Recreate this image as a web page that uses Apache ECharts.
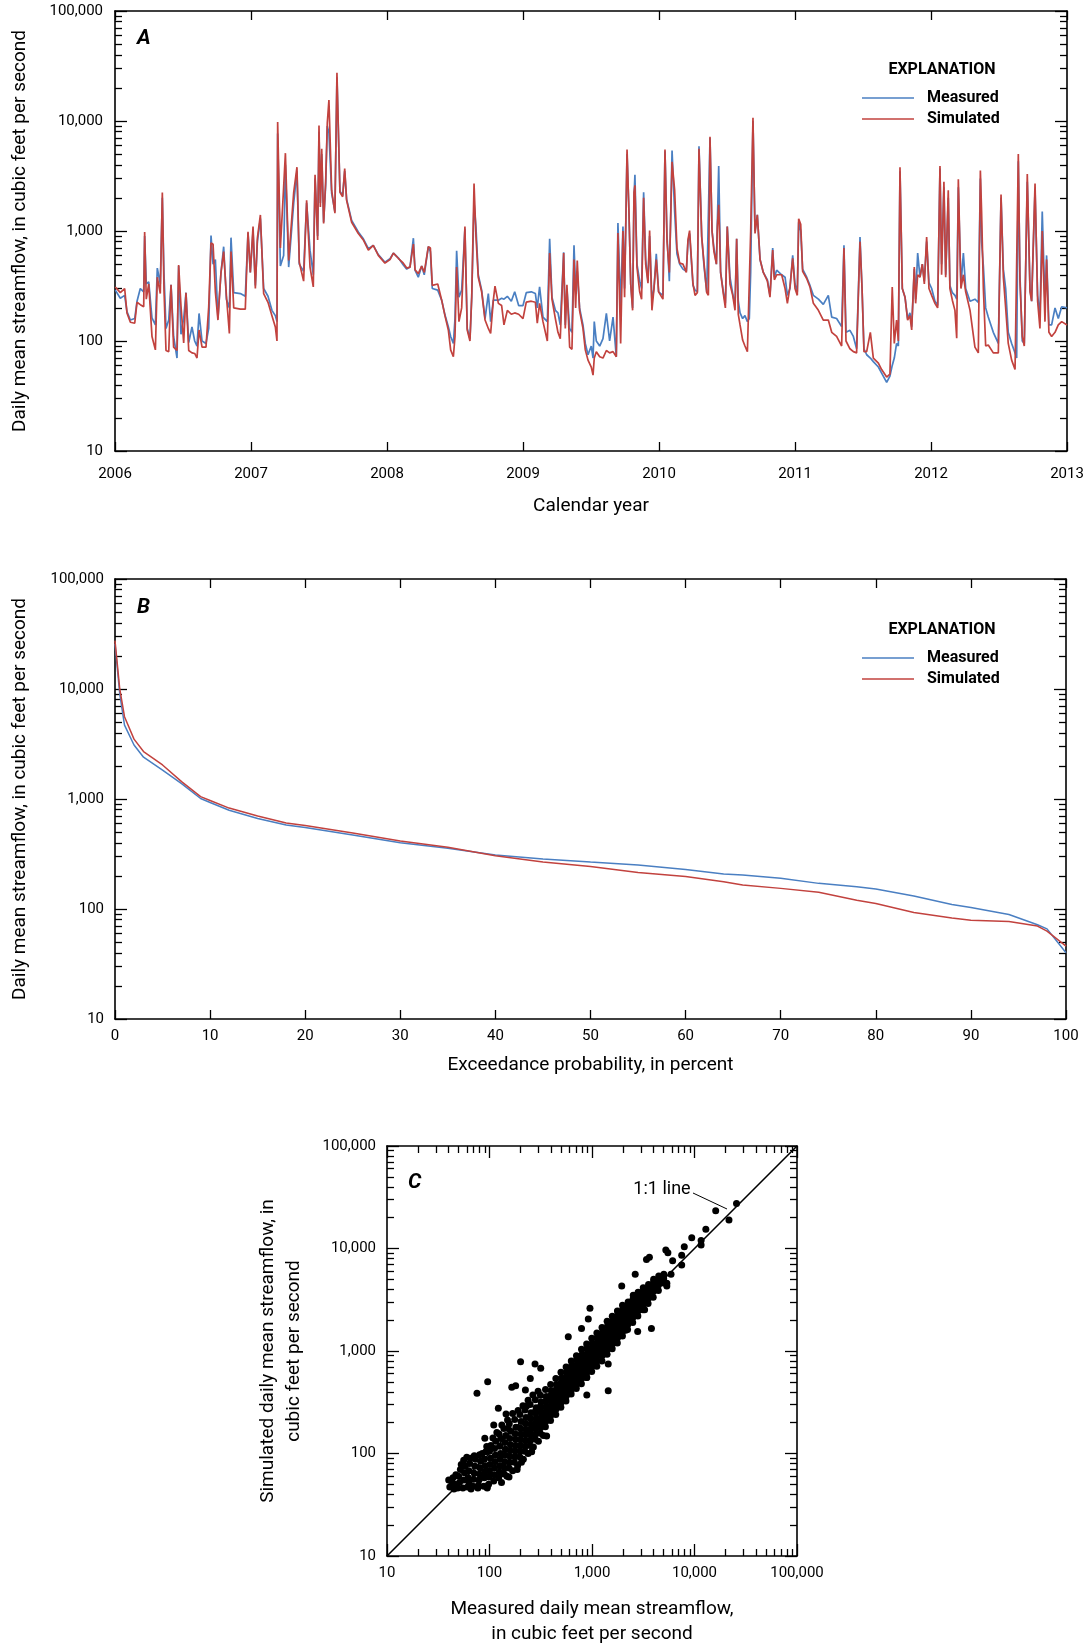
<!DOCTYPE html>
<html>
<head>
<meta charset="utf-8">
<title>Daily mean streamflow, measured and simulated</title>
<script src="https://cdn.jsdelivr.net/npm/echarts@6/dist/echarts.min.js"></script>
<style>
  html, body { margin: 0; padding: 0; background: #fff; }
  #chart { width: 1088px; height: 1648px; }
</style>
</head>
<body>
<div id="chart"></div>
<script>
const FONT = 'Roboto, "Noto Sans", sans-serif'
const BLUE = '#4a7fc2'
const RED = '#c2423e'

// ---- panel A: daily series (decimal year, cfs) ----
const years = [
  2006.002, 2006.039, 2006.071, 2006.088, 2006.113, 2006.145, 2006.162, 2006.186, 2006.211, 2006.218, 2006.230, 2006.248,
  2006.272, 2006.297, 2006.311, 2006.333, 2006.348, 2006.360, 2006.375, 2006.395, 2006.412, 2006.431, 2006.456, 2006.468,
  2006.485, 2006.505, 2006.522, 2006.542, 2006.566, 2006.586, 2006.603, 2006.618, 2006.640, 2006.669, 2006.689, 2006.706,
  2006.721, 2006.738, 2006.757, 2006.779, 2006.799, 2006.819, 2006.841, 2006.853, 2006.873, 2006.922, 2006.958, 2006.978,
  2006.995, 2007.015, 2007.032, 2007.047, 2007.069, 2007.093, 2007.125, 2007.154, 2007.179, 2007.191, 2007.196, 2007.216,
  2007.240, 2007.253, 2007.277, 2007.314, 2007.338, 2007.355, 2007.387, 2007.409, 2007.434, 2007.458, 2007.471, 2007.490,
  2007.500, 2007.510, 2007.520, 2007.534, 2007.549, 2007.561, 2007.573, 2007.593, 2007.617, 2007.632, 2007.654, 2007.674,
  2007.689, 2007.703, 2007.740, 2007.789, 2007.826, 2007.863, 2007.899, 2007.936, 2007.985, 2008.022, 2008.047, 2008.083,
  2008.120, 2008.145, 2008.169, 2008.194, 2008.206, 2008.230, 2008.255, 2008.274, 2008.304, 2008.319, 2008.333, 2008.373,
  2008.402, 2008.426, 2008.451, 2008.468, 2008.488, 2008.500, 2008.512, 2008.529, 2008.549, 2008.573, 2008.590, 2008.610,
  2008.623, 2008.640, 2008.654, 2008.671, 2008.696, 2008.721, 2008.745, 2008.762, 2008.782, 2008.794, 2008.819, 2008.843,
  2008.860, 2008.885, 2008.914, 2008.939, 2008.968, 2009.000, 2009.024, 2009.061, 2009.091, 2009.105, 2009.122, 2009.147,
  2009.179, 2009.196, 2009.213, 2009.238, 2009.257, 2009.274, 2009.299, 2009.311, 2009.323, 2009.343, 2009.360, 2009.375,
  2009.387, 2009.399, 2009.416, 2009.441, 2009.458, 2009.478, 2009.502, 2009.515, 2009.524, 2009.539, 2009.564, 2009.588,
  2009.613, 2009.637, 2009.662, 2009.686, 2009.698, 2009.718, 2009.735, 2009.747, 2009.765, 2009.779, 2009.792, 2009.806,
  2009.816, 2009.823, 2009.838, 2009.858, 2009.872, 2009.887, 2009.902, 2009.919, 2009.931, 2009.948, 2009.963, 2009.980,
  2009.997, 2010.029, 2010.044, 2010.059, 2010.076, 2010.096, 2010.115, 2010.132, 2010.152, 2010.176, 2010.201, 2010.213,
  2010.225, 2010.250, 2010.265, 2010.282, 2010.294, 2010.314, 2010.331, 2010.351, 2010.363, 2010.375, 2010.390, 2010.404,
  2010.422, 2010.429, 2010.439, 2010.453, 2010.473, 2010.488, 2010.502, 2010.522, 2010.542, 2010.559, 2010.571, 2010.583,
  2010.596, 2010.615, 2010.632, 2010.650, 2010.664, 2010.674, 2010.691, 2010.706, 2010.723, 2010.743, 2010.767, 2010.797,
  2010.816, 2010.836, 2010.848, 2010.865, 2010.902, 2010.927, 2010.944, 2010.963, 2010.983, 2011.000, 2011.017, 2011.027,
  2011.042, 2011.056, 2011.086, 2011.110, 2011.135, 2011.172, 2011.208, 2011.245, 2011.270, 2011.306, 2011.343, 2011.360,
  2011.375, 2011.404, 2011.429, 2011.453, 2011.478, 2011.493, 2011.507, 2011.527, 2011.554, 2011.576, 2011.613, 2011.637,
  2011.674, 2011.698, 2011.715, 2011.730, 2011.747, 2011.760, 2011.772, 2011.789, 2011.809, 2011.828, 2011.845, 2011.858,
  2011.877, 2011.887, 2011.902, 2011.919, 2011.936, 2011.951, 2011.968, 2011.985, 2012.005, 2012.029, 2012.049, 2012.066,
  2012.078, 2012.095, 2012.108, 2012.127, 2012.139, 2012.157, 2012.176, 2012.189, 2012.201, 2012.220, 2012.238, 2012.255,
  2012.287, 2012.323, 2012.348, 2012.363, 2012.372, 2012.385, 2012.402, 2012.421, 2012.458, 2012.495, 2012.515, 2012.532,
  2012.549, 2012.568, 2012.593, 2012.618, 2012.630, 2012.642, 2012.654, 2012.671, 2012.686, 2012.708, 2012.728, 2012.740,
  2012.765, 2012.784, 2012.801, 2012.818, 2012.838, 2012.850, 2012.867, 2012.887, 2012.912, 2012.936, 2012.961, 2013.000,
]
const measured = [
  290, 245, 260, 185, 155, 160, 230, 300, 280, 900, 330, 345,
  162, 140, 460, 330, 2000, 420, 130, 155, 324, 110, 70, 480,
  115, 160, 275, 97, 134, 100, 90, 178, 100, 95, 130, 910,
  500, 550, 160, 415, 720, 240, 200, 870, 275, 270, 255, 960,
  420, 1000, 320, 800, 1300, 300, 255, 190, 170, 150, 7700, 480,
  600, 4000, 470, 1800, 3500, 500, 430, 1800, 670, 400, 3000, 900,
  8000, 1800, 5000, 1200, 2600, 9000, 7800, 2200, 1500, 25000, 2300, 2100,
  3500, 1950, 1250, 980, 850, 690, 740, 610, 520, 560, 630, 570,
  490, 450, 470, 860, 440, 380, 480, 400, 720, 650, 300, 290,
  235, 173, 135, 110, 95, 160, 660, 250, 290, 1050, 130, 105,
  250, 1800, 1100, 400, 290, 160, 270, 150, 235, 240, 235, 245,
  240, 255, 230, 280, 210, 210, 275, 280, 270, 200, 310, 165,
  150, 850, 250, 190, 180, 140, 640, 140, 300, 130, 120, 740,
  300, 430, 200, 140, 95, 75, 90, 70, 150, 100, 90, 105,
  178, 100, 165, 72, 1180, 200, 1100, 300, 5000, 1500, 330, 200,
  2000, 3250, 500, 350, 300, 2250, 550, 350, 900, 230, 300, 620,
  280, 260, 5300, 900, 350, 5400, 1500, 620, 500, 450, 430, 800,
  950, 320, 290, 280, 5900, 900, 480, 280, 270, 7000, 1000, 700,
  500, 480, 3900, 420, 280, 220, 1100, 380, 270, 210, 850, 230,
  180, 160, 170, 150, 160, 420, 10000, 1000, 1400, 550, 420, 360,
  260, 700, 380, 440, 400, 380, 260, 300, 600, 330, 280, 1200,
  1000, 450, 380, 320, 260, 240, 215, 260, 165, 160, 135, 740,
  120, 125, 110, 85, 880, 300, 85, 75, 70, 65, 58, 51,
  42, 48, 60, 70, 95, 90, 3500, 300, 250, 160, 180, 135,
  450, 240, 630, 380, 500, 350, 800, 340, 300, 230, 210, 3700,
  500, 2500, 400, 2000, 320, 275, 260, 240, 2500, 320, 630, 300,
  230, 240, 225, 3000, 800, 480, 200, 165, 120, 95, 2000, 450,
  300, 120, 95, 78, 70, 4300, 400, 100, 95, 2800, 300, 230,
  2400, 260, 170, 1500, 220, 600, 140, 140, 200, 160, 205, 200,
]
const simulated = [
  310, 275, 300, 180, 148, 145, 225, 214, 205, 980, 240, 330,
  110, 83, 380, 270, 2240, 300, 82, 80, 324, 88, 82, 490,
  210, 96, 275, 82, 78, 77, 70, 126, 88, 88, 204, 780,
  760, 280, 155, 415, 650, 260, 117, 650, 200, 195, 195, 985,
  420, 1100, 300, 860, 1400, 270, 225, 170, 134, 100, 9800, 700,
  2500, 5100, 540, 2250, 3800, 520, 350, 1900, 470, 310, 3250, 830,
  9100, 1650, 5600, 1170, 2800, 9600, 15500, 2350, 1450, 27500, 2250, 2050,
  3700, 1900, 1200, 950, 830, 670, 740, 600, 510, 550, 630, 565,
  510, 460, 470, 760, 445, 410, 480, 420, 720, 700, 320, 330,
  235, 170, 126, 83, 72, 110, 470, 150, 200, 1100, 126, 100,
  250, 2700, 900, 380, 280, 155, 130, 117, 235, 315, 220, 210,
  140, 190, 175, 180, 175, 160, 226, 230, 225, 145, 220, 150,
  100, 630, 240, 160, 120, 105, 630, 130, 325, 88, 84, 550,
  200, 540, 190, 130, 83, 67, 58, 49, 70, 80, 72, 70,
  82, 78, 80, 72, 960, 95, 1000, 250, 5500, 1500, 330, 190,
  2250, 2600, 470, 280, 240, 2000, 500, 335, 1010, 190, 300, 550,
  280, 240, 5500, 800, 420, 4250, 2350, 700, 510, 500, 420, 830,
  1010, 330, 260, 275, 5600, 880, 510, 275, 260, 7200, 1000, 650,
  500, 1100, 1730, 420, 270, 200, 1100, 330, 260, 190, 850, 175,
  140, 102, 90, 80, 82, 980, 10700, 950, 1400, 550, 420, 350,
  250, 670, 360, 400, 400, 300, 220, 310, 565, 300, 260, 1290,
  1150, 430, 370, 310, 220, 190, 155, 155, 120, 110, 90, 700,
  100, 85, 80, 78, 800, 300, 80, 80, 120, 70, 63, 55,
  47, 50, 310, 95, 155, 100, 3800, 300, 250, 155, 170, 126,
  470, 220, 400, 380, 500, 330, 880, 300, 260, 220, 200, 3900,
  400, 2800, 380, 2350, 300, 235, 190, 106, 2950, 300, 400, 280,
  190, 88, 78, 3550, 1500, 300, 90, 92, 78, 78, 2150, 380,
  200, 95, 67, 55, 53, 5000, 350, 110, 90, 3300, 280, 230,
  2700, 230, 130, 1000, 150, 550, 120, 110, 120, 140, 150, 140,
]

// ---- panel B: flow-duration curves ----
const exceedance = [0, 0.5, 1, 2, 3, 5, 7, 9, 10, 12, 15, 18, 20, 25, 30, 35, 40, 45, 50, 55, 60, 64, 66, 70, 74, 78, 80, 84, 88, 90, 94, 97, 98, 100]
const measuredFdc = [25700, 9000, 4700, 3100, 2400, 1830, 1380, 1010, 930, 790, 665, 580, 550, 470, 400, 357, 310, 285, 267, 251, 229, 208, 204, 190, 171, 159, 152, 131, 110, 103, 89, 72, 66, 40]
const simulatedFdc = [27500, 10000, 5600, 3500, 2700, 2040, 1440, 1050, 970, 827, 700, 605, 575, 490, 415, 365, 305, 268, 243, 215, 197, 177, 165, 154, 142, 120, 112, 93, 83, 79, 77, 70, 63, 46]

// ---- panel C: measured vs simulated pairs ----
const pairsC = [
  [40, 55], [41, 47], [43, 52], [44, 58], [45, 45], [46, 50], [47, 62],
  [49, 46], [50, 60], [51, 52], [52, 70], [53, 78], [55, 46], [56, 55], [57, 65], [58, 75], [56, 86],
  [61, 47], [62, 58], [63, 68], [64, 80], [65, 90], [63, 52], [69, 48], [70, 56], [71, 64], [72, 75], [73, 88], [71, 95],
  [78, 49], [79, 55], [80, 63], [81, 72], [82, 84], [80, 97], [77, 46],
  [88, 48], [89, 58], [90, 66], [91, 76], [89, 88], [92, 104], [95, 46],
  [98, 50], [99, 59], [100, 68], [101, 78], [102, 90], [100, 105], [103, 120],
  [110, 54], [111, 62], [112, 72], [113, 83], [114, 96], [112, 112], [115, 132],
  [123, 58], [125, 66], [126, 76], [127, 88], [128, 100], [126, 118], [129, 140], [124, 155],
  [139, 63], [140, 72], [141, 83], [142, 96], [143, 110], [141, 128], [144, 150], [138, 175],
  [155, 72], [157, 82], [158, 94], [159, 107], [160, 122], [158, 140], [161, 165], [156, 195],
  [175, 82], [177, 93], [178, 106], [179, 120], [180, 137], [178, 156], [181, 180], [176, 215],
  [197, 93], [199, 106], [200, 120], [201, 136], [202, 155], [200, 176], [203, 205], [198, 240], [205, 82],
  [221, 105], [223, 118], [224, 134], [225, 152], [226, 172], [224, 196], [227, 225], [222, 265],
  [248, 120], [250, 135], [251, 152], [252, 172], [253, 194], [251, 220], [254, 250], [249, 300],
  [279, 138], [281, 155], [282, 175], [283, 197], [284, 220], [282, 248], [285, 280], [280, 335],
  [312, 158], [315, 178], [316, 200], [317, 225], [318, 252], [316, 282], [319, 318], [314, 370],
  [351, 182], [353, 205], [355, 230], [356, 258], [357, 288], [355, 322], [358, 360], [352, 420],
  [394, 210], [396, 236], [398, 264], [399, 295], [400, 330], [398, 368], [401, 410], [395, 470],
  [443, 240], [445, 270], [447, 302], [448, 338], [449, 378], [447, 420], [450, 470], [444, 540],
  [497, 282], [499, 315], [501, 352], [502, 392], [503, 438], [501, 490], [504, 545], [498, 620],
  [557, 325], [560, 362], [562, 405], [563, 450], [564, 500], [562, 560], [565, 620], [559, 700],
  [626, 380], [629, 422], [631, 470], [632, 522], [633, 580], [631, 645], [634, 720], [628, 800],
  [703, 430], [706, 480], [708, 535], [709, 595], [710, 660], [708, 735], [711, 820], [705, 900],
  [788, 480], [791, 540], [794, 600], [795, 668], [796, 742], [794, 825], [797, 920], [790, 1040],
  [885, 550], [888, 615], [891, 685], [892, 760], [893, 845], [891, 940], [894, 1050], [887, 1170],
  [993, 630], [996, 705], [1000, 785], [1002, 870], [1004, 965], [1000, 1070], [1006, 1190], [995, 1330],
  [1114, 710], [1118, 800], [1122, 890], [1124, 985], [1126, 1090], [1122, 1210], [1128, 1350], [1116, 1500],
  [1250, 800], [1254, 900], [1259, 1000], [1262, 1110], [1264, 1230], [1259, 1370], [1266, 1520], [1252, 1700],
  [1403, 930], [1408, 1040], [1413, 1150], [1416, 1270], [1418, 1410], [1413, 1560], [1420, 1750], [1405, 1950],
  [1574, 1050], [1580, 1170], [1585, 1300], [1588, 1440], [1590, 1600], [1585, 1780], [1592, 1980], [1577, 2180],
  [1766, 1200], [1772, 1340], [1778, 1490], [1782, 1650], [1785, 1830], [1778, 2030], [1788, 2250], [1770, 2450],
  [1981, 1400], [1988, 1560], [1995, 1730], [2000, 1920], [2004, 2130], [1995, 2360], [2008, 2600], [1985, 2800],
  [2223, 1620], [2230, 1800], [2239, 2000], [2244, 2220], [2248, 2460], [2239, 2720], [2252, 3000],
  [2495, 1900], [2503, 2120], [2512, 2350], [2518, 2600], [2522, 2880], [2512, 3200], [2526, 3500],
  [2800, 2200], [2810, 2450], [2818, 2720], [2825, 3020], [2830, 3350], [2818, 3750],
  [3140, 2520], [3150, 2800], [3162, 3100], [3170, 3450], [3175, 3850], [3162, 4150],
  [3525, 2900], [3536, 3250], [3548, 3600], [3556, 4000], [3560, 4450],
  [3955, 3350], [3968, 3800], [3981, 4200], [3990, 4700], [3995, 5000],
  [4440, 3900], [4455, 4400], [4467, 4900], [4480, 5400], [4980, 4600], [5000, 5100], [5020, 5600],
  // ragged edges of the low-flow part of the band
  [118, 160], [132, 190], [150, 212], [168, 245], [190, 262], [212, 292], [238, 330], [265, 372], [298, 405],
  [131, 52], [148, 60], [168, 68], [188, 76], [214, 88], [238, 100], [268, 116], [300, 132], [335, 150],
  [108, 142], [152, 175], [186, 70], [230, 290], [60, 92], [85, 100], [66, 45],
  // scattered points away from the main band
  [25700, 27500], [16100, 23400], [21700, 19000], [12900, 15400], [9400, 12700], [11600, 12000], [11600, 10800],
  [7950, 10400], [5250, 9660], [5500, 9100], [6120, 7590], [7500, 8600], [7500, 6920], [3400, 7830], [3630, 8220],
  [5900, 5600], [5370, 4300], [5370, 4570], [2640, 5600], [1950, 4300], [3800, 1660], [2790, 1550], [955, 2610],
  [920, 2050], [587, 1380], [790, 1660], [1440, 747], [1440, 410], [890, 372], [201, 787], [96, 500], [75.5, 386],
  [165, 444], [180, 457], [224, 417], [278, 747], [316, 680], [250, 540], [122, 276], [110, 190], [145, 243],
  [90, 141], [94, 117], [361, 148], [258, 104], [155, 59], [95, 47], [417, 281], [890, 550], [2130, 1590], [3260, 2530],
]
const oneToOne = [10, 100000]

// ---- axes ----
const yearTicks = [2006, 2007, 2008, 2009, 2010, 2011, 2012, 2013]
const flowTicks = [10, 100, 1000, 10000, 100000]
const minorFlowTicks = [
  20, 30, 40, 50, 60, 70, 80, 90,
  200, 300, 400, 500, 600, 700, 800, 900,
  2000, 3000, 4000, 5000, 6000, 7000, 8000, 9000,
  20000, 30000, 40000, 50000, 60000, 70000, 80000, 90000,
]

const tickLine = { color: "#000", width: 1.3 }
const boxLine = { show: true, onZero: false, lineStyle: { color: "#000", width: 1.6 } }
const labelStyle = { color: "#000", fontFamily: FONT, fontSize: 15 }
const nameStyle = { color: "#000", fontFamily: FONT, fontSize: 19, lineHeight: 20 }

function flowAxis(gridIndex, position, showLabel, margin) {
  return {
    type: "log",
    logBase: 10,
    min: 10,
    max: 100000,
    gridIndex,
    position,
    axisLine: boxLine,
    splitLine: { show: false },
    axisTick: { show: true, inside: true, length: 12, customValues: flowTicks, lineStyle: tickLine },
    axisLabel: {
      show: showLabel,
      customValues: flowTicks,
      margin,
      formatter: (v) => Number(v).toLocaleString("en-US"),
      ...labelStyle,
    },
  }
}

function minorAxis(gridIndex, position) {
  return {
    type: "log",
    logBase: 10,
    min: 10,
    max: 100000,
    gridIndex,
    position,
    axisLine: { show: false },
    splitLine: { show: false },
    axisTick: { show: true, inside: true, length: 7, customValues: minorFlowTicks, lineStyle: tickLine },
    axisLabel: { show: false },
  }
}

function linearAxis(gridIndex, position, min, max, interval, showLabel, margin) {
  return {
    type: "value",
    gridIndex,
    position,
    min,
    max,
    interval,
    axisLine: boxLine,
    splitLine: { show: false },
    axisTick: { show: true, inside: true, length: 9, lineStyle: tickLine },
    axisLabel: { show: showLabel, margin, formatter: (v) => String(v), ...labelStyle },
  }
}

const hiddenX = (gridIndex) => ({ type: "value", gridIndex, min: 0, max: 1, show: false })

function lineSeries(name, color, xIdx, yIdx, xs, ys, width) {
  return {
    name,
    type: "line",
    xAxisIndex: xIdx,
    yAxisIndex: yIdx,
    data: xs.map((x, i) => [x, ys[i]]),
    showSymbol: false,
    symbol: "none",
    color,
    itemStyle: { color },
    lineStyle: { color, width },
    silent: true,
  }
}

function legendAt(top) {
  return {
    left: 862,
    top,
    padding: 0,
    orient: "vertical",
    icon: "rect",
    itemWidth: 52,
    itemHeight: 1.6,
    itemGap: 5,
    selectedMode: false,
    data: ["Measured", "Simulated"],
    textStyle: { color: "#000", fontFamily: FONT, fontSize: 16, fontWeight: "bold", padding: [0, 0, 0, 8] },
  }
}

function panelText(x, y, text, extra) {
  return {
    type: "text",
    x,
    y,
    style: { text, fill: "#000", fontFamily: FONT, verticalAlign: "middle", ...extra },
  }
}

const gridA = { left: 115, top: 11, width: 952, height: 440, outerBoundsMode: "none" }
const gridB = { left: 115, top: 579, width: 951, height: 440, outerBoundsMode: "none" }
const gridC = { left: 387, top: 1146, width: 410, height: 410, outerBoundsMode: "none" }

const xAxes = [
  { ...linearAxis(0, "bottom", 2006, 2013, 1, true, 16), name: "Calendar year", nameLocation: "middle", nameGap: 45, nameTextStyle: nameStyle },
  linearAxis(0, "top", 2006, 2013, 1, false, 8),
  hiddenX(1),
  { ...linearAxis(2, "bottom", 0, 100, 10, true, 10), name: "Exceedance probability, in percent", nameLocation: "middle", nameGap: 36, nameTextStyle: nameStyle },
  linearAxis(2, "top", 0, 100, 10, false, 8),
  hiddenX(3),
  {
    ...flowAxis(4, "bottom", true, 10),
    name: "Measured daily mean streamflow,\nin cubic feet per second",
    nameLocation: "middle",
    nameGap: 41,
    nameTextStyle: { ...nameStyle, lineHeight: 25 },
  },
  flowAxis(4, "top", false, 8),
  minorAxis(5, "bottom"),
  minorAxis(5, "top"),
]

const yAxes = [
  {
    ...flowAxis(0, "left", true, 12),
    name: "Daily mean streamflow, in cubic feet per second",
    nameLocation: "middle",
    nameRotate: 90,
    nameGap: 85,
    nameTextStyle: nameStyle,
  },
  flowAxis(0, "right", false, 8),
  minorAxis(1, "left"),
  minorAxis(1, "right"),
  {
    ...flowAxis(2, "left", true, 11),
    name: "Daily mean streamflow, in cubic feet per second",
    nameLocation: "middle",
    nameRotate: 90,
    nameGap: 85,
    nameTextStyle: nameStyle,
  },
  flowAxis(2, "right", false, 8),
  minorAxis(3, "left"),
  minorAxis(3, "right"),
  {
    ...flowAxis(4, "left", true, 11),
    name: "Simulated daily mean streamflow, in\ncubic feet per second",
    nameLocation: "middle",
    nameRotate: 90,
    nameGap: 80,
    nameTextStyle: { ...nameStyle, lineHeight: 26 },
  },
  flowAxis(4, "right", false, 8),
  minorAxis(5, "left"),
  minorAxis(5, "right"),
]

const chart = echarts.init(document.getElementById("chart"), null, { renderer: "canvas" })

const option = {
  animation: false,
  backgroundColor: "#fff",
  textStyle: { fontFamily: FONT },
  grid: [gridA, gridA, gridB, gridB, gridC, gridC],
  xAxis: xAxes,
  yAxis: yAxes,
  legend: [legendAt(90), legendAt(650)],
  series: [
    lineSeries("Measured", BLUE, 0, 0, years, measured, 1.7),
    lineSeries("Simulated", RED, 0, 0, years, simulated, 1.7),
    lineSeries("Measured", BLUE, 3, 4, exceedance, measuredFdc, 1.5),
    lineSeries("Simulated", RED, 3, 4, exceedance, simulatedFdc, 1.5),
    {
      name: "1:1 line",
      type: "line",
      xAxisIndex: 6,
      yAxisIndex: 8,
      data: oneToOne.map((v) => [v, v]),
      showSymbol: false,
      symbol: "none",
      lineStyle: { color: "#000", width: 1.6 },
      silent: true,
    },
    {
      name: "Daily values",
      type: "scatter",
      xAxisIndex: 6,
      yAxisIndex: 8,
      data: pairsC,
      symbol: "circle",
      symbolSize: 7,
      itemStyle: { color: "#000", opacity: 1 },
      silent: true,
    },
  ],
  graphic: [
    panelText(137, 38.5, "A", { fontSize: 21, fontWeight: "bold", fontStyle: "italic" }),
    panelText(137, 607.5, "B", { fontSize: 21, fontWeight: "bold", fontStyle: "italic" }),
    panelText(408, 1183, "C", { fontSize: 21, fontWeight: "bold", fontStyle: "italic" }),
    panelText(942, 69.5, "EXPLANATION", { fontSize: 16, fontWeight: "bold", align: "center" }),
    panelText(942, 629.5, "EXPLANATION", { fontSize: 16, fontWeight: "bold", align: "center" }),
    panelText(662, 1189, "1:1 line", { fontSize: 18, align: "center" }),
    {
      type: "line",
      shape: { x1: 693, y1: 1193, x2: 727, y2: 1209 },
      style: { stroke: "#000", lineWidth: 1 },
    },
  ],
}

chart.setOption(option)
window.addEventListener("resize", () => chart.resize())
</script>
</body>
</html>
